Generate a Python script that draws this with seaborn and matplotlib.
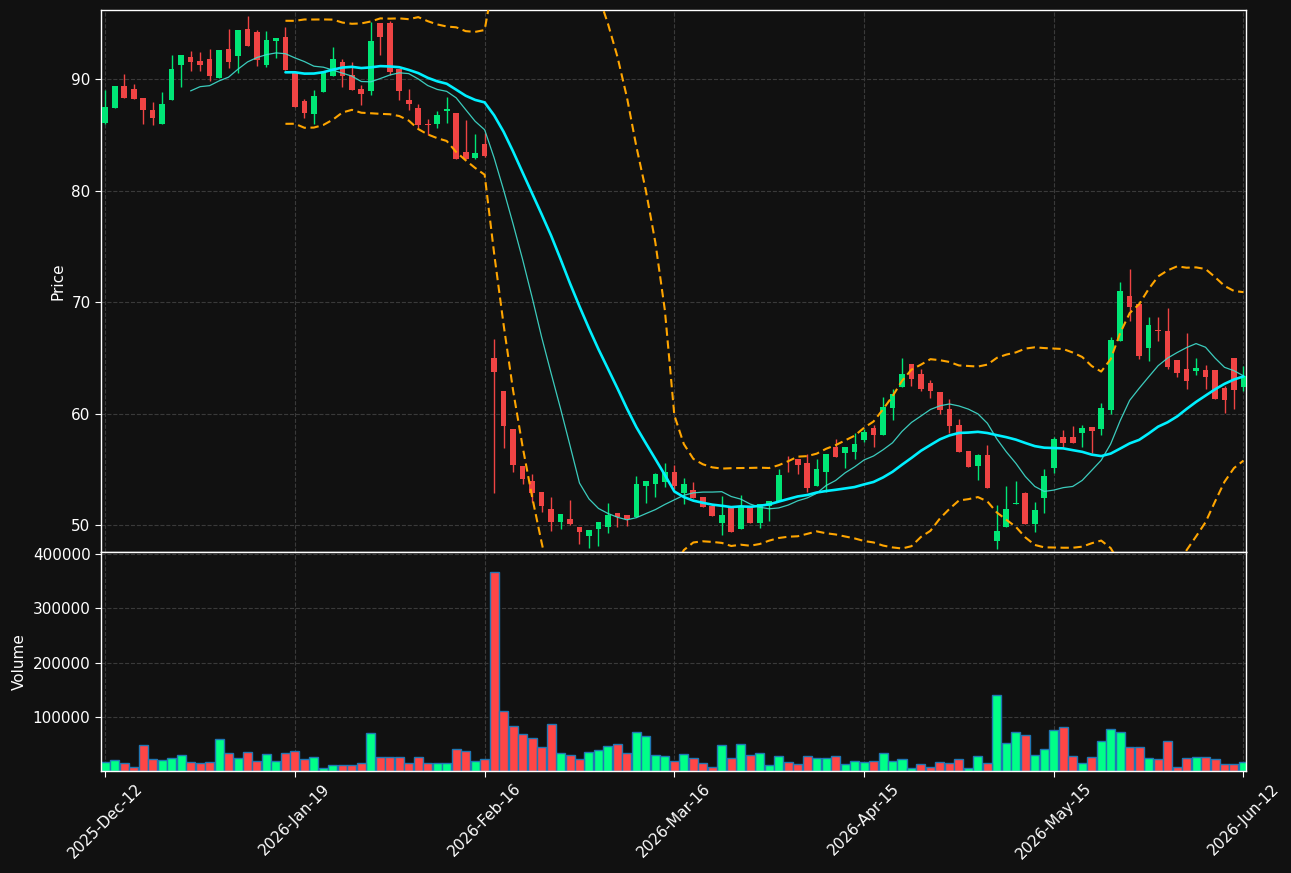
import numpy as np
import pandas as pd
import matplotlib
matplotlib.use("Agg")
import matplotlib.pyplot as plt
import seaborn as sns

# ---------------- data ----------------
opens = [86.07, 87.42, 89.37, 89.1, 88.29, 87.21, 85.98, 88.14, 91.29, 91.98,
         91.62, 91.8, 90.12, 92.7, 92.1, 94.5, 94.23, 91.26, 93.45, 93.78,
         90.66, 88.02, 86.85, 88.86, 90.27, 91.53, 90.36, 89.1, 88.92, 95.0,
         95.0, 90.87, 88.17, 87.45, 85.98, 85.95, 87.18, 86.94, 83.44, 82.9,
         84.15, 65.0, 62.05, 58.64, 55.32, 53.98, 52.99, 51.47, 50.33, 50.57,
         49.85, 49.07, 49.7, 49.88, 51.1, 50.93, 50.78, 53.56, 53.74, 53.92,
         54.77, 52.85, 53.15, 52.52, 51.71, 50.2, 51.62, 49.64, 51.65, 50.18,
         51.74, 52.19, 55.05, 55.95, 55.56, 53.54, 54.8, 57.03, 56.52, 56.61,
         57.63, 58.68, 58.08, 60.51, 62.4, 64.44, 63.54, 62.73, 61.92, 60.39,
         58.95, 56.7, 55.29, 56.34, 48.62, 49.88, 51.9, 52.85, 50.15, 52.4,
         55.17, 57.89, 57.92, 58.31, 58.82, 58.64, 60.37, 66.56, 70.57, 69.85,
         65.93, 67.52, 67.43, 64.83, 64.02, 63.87, 63.93, 63.93, 62.29, 65.0,
         62.44]
highs = [89.0, 89.4, 90.42, 89.6, 88.3, 87.96, 88.86, 92.2, 92.16, 92.5,
         92.43, 92.7, 92.6, 94.5, 94.4, 95.67, 94.4, 94.3, 93.69, 94.68,
         90.7, 88.2, 89.07, 90.66, 92.85, 91.8, 91.5, 89.46, 95.16, 95.0,
         95.2, 90.9, 89.16, 87.78, 86.46, 87.18, 88.41, 86.94, 86.37, 85.1,
         85.17, 66.68, 62.05, 58.64, 55.32, 54.6, 52.99, 52.51, 51.02, 52.24,
         49.85, 49.58, 50.3, 51.97, 51.1, 50.93, 54.42, 53.98, 54.72, 55.56,
         55.38, 54.2, 53.84, 52.52, 51.71, 52.6, 51.62, 52.67, 51.65, 51.92,
         52.13, 55.0, 56.2, 55.95, 56.37, 55.92, 56.4, 57.72, 57.03, 58.26,
         58.6, 59.0, 61.53, 62.25, 65.04, 64.44, 64.05, 63.0, 61.92, 61.29,
         59.49, 56.7, 56.4, 57.2, 51.8, 53.51, 53.96, 52.97, 52.1, 55.05,
         57.95, 58.52, 58.91, 58.97, 58.82, 60.94, 66.92, 71.82, 72.99, 69.85,
         68.65, 68.65, 69.46, 64.83, 67.22, 65.0, 64.35, 63.93, 62.5, 65.0,
         64.32]
lows = [86.0, 87.4, 88.3, 88.2, 86.0, 85.92, 85.98, 88.14, 89.34, 90.75,
        90.75, 89.82, 90.1, 90.96, 90.57, 93.0, 91.17, 91.08, 91.92, 90.84,
        87.5, 86.52, 86.01, 88.86, 90.27, 89.34, 89.0, 87.69, 88.62, 92.2,
        90.36, 88.17, 87.27, 85.62, 84.96, 85.62, 86.07, 82.84, 82.84, 82.84,
        83.0, 52.93, 56.97, 54.81, 53.68, 52.06, 51.23, 49.52, 49.7, 50.0,
        48.36, 47.94, 48.18, 49.28, 49.88, 49.97, 50.78, 51.97, 52.57, 53.47,
        53.21, 51.92, 52.46, 51.6, 50.81, 49.16, 49.37, 49.64, 50.18, 49.76,
        50.39, 52.19, 54.8, 54.62, 52.94, 53.54, 53.0, 56.16, 55.17, 55.92,
        57.5, 57.0, 58.08, 59.43, 62.4, 62.5, 62.04, 61.44, 59.94, 58.29,
        56.55, 55.2, 54.06, 53.3, 47.9, 49.88, 51.9, 50.15, 49.43, 51.08,
        54.72, 57.06, 57.41, 57.06, 56.46, 58.07, 59.96, 66.56, 68.33, 64.95,
        64.71, 66.56, 64.0, 63.33, 62.2, 63.51, 62.26, 61.36, 60.04, 60.4,
        62.05]
closes = [87.48, 89.37, 88.32, 88.23, 87.21, 86.52, 87.75, 90.9, 92.16, 91.56,
          91.26, 90.27, 92.6, 91.56, 94.4, 93.0, 91.71, 93.5, 93.69, 90.84,
          87.51, 86.97, 88.47, 90.66, 91.8, 90.27, 89.04, 88.65, 93.42, 93.8,
          90.66, 88.95, 87.75, 85.86, 85.92, 86.76, 87.3, 82.84, 82.84, 83.35,
          83.08, 63.75, 58.9, 55.41, 54.16, 52.9, 51.76, 50.33, 51.02, 50.15,
          49.43, 49.58, 50.3, 50.93, 50.78, 50.57, 53.7, 53.98, 54.6, 54.78,
          53.54, 53.69, 52.46, 51.62, 50.81, 50.9, 49.37, 51.65, 50.18, 51.92,
          52.13, 54.47, 55.02, 55.44, 53.36, 55.05, 56.4, 56.16, 57.03, 57.27,
          58.32, 58.05, 60.57, 61.74, 63.54, 63.09, 62.19, 62.01, 60.33, 58.89,
          56.55, 55.2, 56.34, 53.3, 49.49, 51.47, 52.0, 50.15, 51.38, 54.44,
          57.74, 57.41, 57.41, 58.73, 58.49, 60.52, 66.62, 71.02, 69.61, 65.22,
          67.97, 67.46, 64.23, 63.69, 62.97, 64.11, 63.33, 61.36, 61.27, 62.17,
          63.39]
volumes = [16700, 20400, 14800, 8600, 48000, 23400, 20400, 24000, 29600, 16700,
           14800, 16700, 59200, 33300, 25300, 35200, 18500, 31500, 18500, 33300,
           37000, 23400, 25900, 6800, 12300, 12300, 12300, 16000, 70300, 27100,
           27100, 27100, 16000, 27100, 16000, 16000, 14800, 40700, 37000, 18500,
           23400, 366500, 111000, 83300, 68500, 61000, 44400, 87000, 33300, 29600,
           22200, 35200, 38900, 46300, 50000, 33300, 72200, 64800, 29600, 27800,
           18500, 31500, 24000, 14800, 8600, 48000, 24000, 50000, 29600, 33300,
           11100, 27800, 16700, 13000, 27800, 24000, 24000, 27800, 13000, 18500,
           16700, 18500, 33300, 18500, 22200, 5600, 13000, 8600, 16700, 14800,
           22200, 5600, 27800, 14800, 140700, 51800, 72200, 66600, 29600, 40700,
           75900, 81400, 27800, 14800, 25900, 55500, 77700, 72200, 44400, 44400,
           24000, 22200, 55500, 8600, 24000, 25900, 25900, 22200, 13000, 13000,
           16700]
volume_side = list("GGRRRRGGGRRRGRGRRGGRRRGGGRRRGRRRRRRGGRRGR"
                   "RRRRRRRGRRGGGRRGGGGR"
                   "GRRRGRGRGGGRRRGGRGGG"
                   "RGGGGRRRRRGGRGGGRGGG"
                   "RRGRGGGRRGRRRRGRRRRG")
tick_labels = ["2025-Dec-12", "2026-Jan-19", "2026-Feb-16", "2026-Mar-16",
               "2026-Apr-15", "2026-May-15", "2026-Jun-12"]

# ---------------- style ----------------
BG = "#111111"
sns.set_style("dark", rc={
    "axes.facecolor": BG, "figure.facecolor": BG, "axes.edgecolor": "white",
    "axes.labelcolor": "white", "text.color": "white",
    "xtick.color": "white", "ytick.color": "white",
    "xtick.bottom": True, "ytick.left": True,
    "grid.color": "#3a3a3a", "grid.linestyle": "--",
})
plt.rcParams["font.family"] = ["DejaVu Sans"]

UP_C, DN_C = "#00e676", "#ef4444"
VUP_C, VDN_C = "#00ff88", "#ff4646"

n = len(closes)
idx = np.arange(n)
o = np.array(opens); c = np.array(closes)
h = np.array(highs); l = np.array(lows)
df = pd.DataFrame({"x": idx, "open": o, "high": h, "low": l, "close": c,
                   "volume": volumes, "side": volume_side})
df["sma10"] = df["close"].rolling(10).mean()
df["sma20"] = df["close"].rolling(20).mean()
sd20 = df["close"].rolling(20).std(ddof=0)
df["bb_up"] = df["sma20"] + 2 * sd20
df["bb_lo"] = df["sma20"] - 2 * sd20

fig = plt.figure(figsize=(12.91, 8.73), dpi=100)
ax = fig.add_axes([0.0782, 0.3677, 0.8869, 0.6208])
axv = fig.add_axes([0.0782, 0.1174, 0.8869, 0.2503], sharex=ax)

# candles
ccol = np.where(c >= o, UP_C, DN_C)
ax.vlines(idx, l, h, colors=ccol, linewidth=1.0, zorder=2)
body_h = np.maximum(np.abs(c - o), 0.06)
ax.bar(idx, body_h, bottom=np.minimum(o, c), width=0.6, color=ccol,
       linewidth=0, zorder=3)

# overlays
sns.lineplot(data=df, x="x", y="sma10", ax=ax, color="#40e0d0", linewidth=0.9,
             alpha=0.9, estimator=None, errorbar=None, zorder=4)
sns.lineplot(data=df, x="x", y="sma20", ax=ax, color="#00f0ff", linewidth=1.9,
             estimator=None, errorbar=None, zorder=5)
for col in ["bb_up", "bb_lo"]:
    sns.lineplot(data=df, x="x", y=col, ax=ax, color="orange", linewidth=1.5,
                 estimator=None, errorbar=None, zorder=4, dashes=False)
for line in ax.get_lines()[-2:]:
    line.set_linestyle((0, (4, 2.2)))

ax.set_ylim(47.6, 96.2)
ax.set_yticks([50, 60, 70, 80, 90])
ax.set_ylabel("Price", fontsize=11)
ax.set_xlabel("")
ax.grid(True, linestyle="--", color="#3a3a3a", linewidth=0.8)
ax.tick_params(axis="x", labelbottom=False, length=0)
ax.tick_params(axis="y", labelsize=11, length=4, color="white")

# volume
sns.barplot(data=df, x="x", y="volume", hue="side", ax=axv,
            palette={"G": VUP_C, "R": VDN_C}, dodge=False, width=0.95,
            saturation=1, edgecolor="#1f77b4", linewidth=1.0, legend=False,
            native_scale=True)
vmin, vmax = min(volumes), max(volumes)
axv.set_ylim(0.3 * vmin, 1.1 * vmax)
axv.set_yticks([100000, 200000, 300000, 400000])
axv.ticklabel_format(axis="y", style="plain")
axv.set_ylabel("Volume", fontsize=11)
axv.set_xlabel("")
axv.grid(True, linestyle="--", color="#3a3a3a", linewidth=0.8)
axv.set_xticks(np.arange(0, n, 20))
axv.set_xticklabels(tick_labels, rotation=45, fontsize=11)
axv.tick_params(axis="both", labelsize=11, length=4, color="white")
axv.set_xlim(-0.45, 120.26)

for a in (ax, axv):
    for s in a.spines.values():
        s.set_color("white")
        s.set_linewidth(1.0)
    a.set_axisbelow(True)

fig.savefig("out.png", dpi=100, facecolor=BG)
